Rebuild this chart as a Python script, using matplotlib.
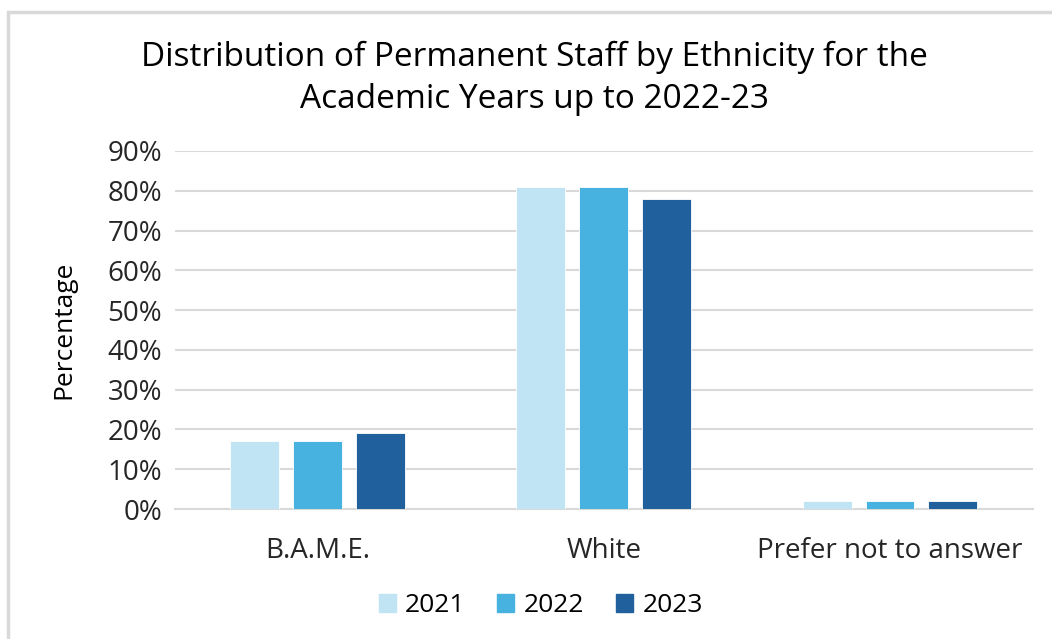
import matplotlib.pyplot as plt
import matplotlib.patches as mpatches
import numpy as np

plt.rcParams['font.family'] = ['Open Sans', 'DejaVu Sans']

categories = ['B.A.M.E.', 'White', 'Prefer not to answer']
years = ['2021', '2022', '2023']
values = {
    '2021': [17, 81, 2],
    '2022': [17, 81, 2],
    '2023': [19, 78, 2],
}
colors = ['#C1E4F5', '#47B1E0', '#20609C']

fig = plt.figure(figsize=(10.52, 6.39), dpi=100)
ax = fig.add_axes([0.166, 0.2034, 0.816, 0.5603])

# outer chart frame (light gray, runs off the right/bottom edge)
fig.patches.append(mpatches.Rectangle((8 / 1052, -0.1), 1.2, (639 - 12) / 639 + 0.1,
                                      transform=fig.transFigure, fill=False,
                                      edgecolor='#D9D9D9', linewidth=2.5))

x = np.arange(len(categories))
width = 0.171
offset = 0.22
for i, yr in enumerate(years):
    ax.bar(x + (i - 1) * offset, values[yr], width, color=colors[i],
           edgecolor='white', linewidth=0.6, label=yr, zorder=3)

ax.set_xlim(-0.5, 2.5)
ax.set_ylim(0, 90)
ax.set_yticks(range(0, 91, 10))
ax.set_yticklabels([f'{v}%' for v in range(0, 91, 10)], fontsize=20, color='#262626')
ax.set_xticks(x)
ax.set_xticklabels(categories, fontsize=20, color='#262626')
ax.tick_params(length=0, pad=9)
ax.tick_params(axis='x', pad=20)
ax.grid(axis='y', color='#D9D9D9', linewidth=1.5, zorder=0)
for s in ['top', 'right', 'left']:
    ax.spines[s].set_visible(False)
ax.spines['bottom'].set_color('#D9D9D9')
ax.spines['bottom'].set_linewidth(1.5)

ax.set_ylabel('Percentage', fontsize=19, color='#000000', labelpad=22)

fig.text(0.508, 0.878, 'Distribution of Permanent Staff by Ethnicity for the\nAcademic Years up to 2022-23',
         ha='center', va='center', fontsize=24, color='#000000', linespacing=1.36)

handles = [mpatches.Patch(color=c, label=y) for c, y in zip(colors, years)]
fig.legend(handles=handles, loc='center', bbox_to_anchor=(0.514, 0.052), ncol=3,
           frameon=False, fontsize=19, handlelength=0.65, handleheight=0.65,
           handletextpad=0.35, columnspacing=1.2)

plt.savefig('out.png', dpi=100)
